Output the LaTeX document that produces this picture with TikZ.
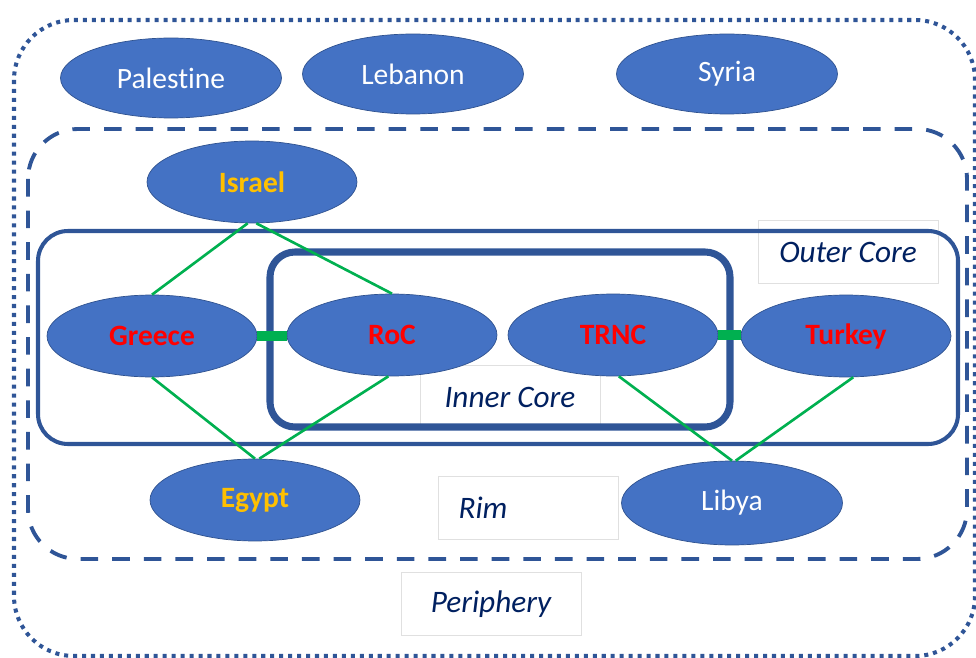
\documentclass[tikz,border=0pt]{standalone}
\usepackage{fontspec}
\setmainfont{Carlito}[Ligatures={NoCommon,NoRare}]
\usetikzlibrary{shapes.geometric}
\definecolor{nodeblue}{HTML}{4472C4}
\definecolor{edgeblue}{HTML}{2F528F}
\definecolor{frameblue}{HTML}{2F5597}
\definecolor{labelnavy}{HTML}{002060}
\definecolor{linkgreen}{HTML}{00B050}
\definecolor{keyred}{HTML}{FF0000}
\definecolor{keygold}{HTML}{FFC000}
\begin{document}
\begin{tikzpicture}
[
 x=0.02cm, y=-0.02cm,
 inner sep=0mm,
 COUNTRY/.style={ellipse, draw=edgeblue, fill=nodeblue, thin, minimum width=4.2cm, minimum height=1.64cm, text=white, font=\fontsize{16.8}{20}\selectfont},
 WIDE/.style={COUNTRY, minimum width=4.42cm, minimum height=1.6cm},
 LABELBOX/.style={rectangle, draw=black!12, fill=white, very thin, minimum width=3.6cm, minimum height=1.26cm, text=labelnavy, font=\fontsize{17.8}{20}\selectfont\itshape},
 LINK/.style={draw=linkgreen, line width=1.5pt},
 BAR/.style={draw=linkgreen, line width=5.5pt},
 ]
%
\useasboundingbox (0,0) rectangle (976,658);
%
% frames
\draw [frameblue, line width=2.3pt, dash pattern=on 2.3pt off 2.8pt, rounded corners=1.2cm]
      (14,20) rectangle (975,656);
\draw [frameblue, line width=2.2pt, dash pattern=on 10pt off 8pt, rounded corners=1cm]
      (28,129) rectangle (967,559);
%
\node [LABELBOX]  (OuterLab)  at (848,252)  {Outer Core};
\node [LABELBOX]  (InnerLab)  at (510,397)  {Inner Core};
\node [LABELBOX]  (RimLab)    at (528,508)  {\hspace*{-1.8cm}Rim};
\node [LABELBOX]  (PeriLab)   at (491,604)  {Periphery};
%
\draw [frameblue, line width=2.3pt, rounded corners=0.6cm]  (38,231) rectangle (958,444);
\draw [frameblue, line width=4pt, rounded corners=0.5cm]    (270,252) rectangle (730,427);
%
\node [WIDE]     (Palestine)  at (171,78)   {Palestine};
\node [WIDE]     (Lebanon)    at (413,74)   {Lebanon};
\node [WIDE]     (Syria)      at (727,74)   {Syria};
%
\node [COUNTRY]  (Israel)     at (252,182)  {\textcolor{keygold}{\bfseries Israel}};
\node [COUNTRY]  (Greece)     at (152,336)  {\textcolor{keyred}{\bfseries Greece}};
\node [COUNTRY]  (RoC)        at (392,335)  {\textcolor{keyred}{\bfseries RoC}};
\node [COUNTRY]  (TRNC)       at (613,335)  {\textcolor{keyred}{\bfseries TRNC}};
\node [COUNTRY]  (Turkey)     at (846,336)  {\textcolor{keyred}{\bfseries Turkey}};
\node [COUNTRY]  (Egypt)      at (255,500)  {\textcolor{keygold}{\bfseries Egypt}};
\node [WIDE, minimum height=1.68cm]  (Libya)  at (732,503)  {Libya};
%
\draw [LINK]  (Israel.-96)  -- (Greece.north) ;
\draw [LINK]  (Israel.-84)  -- (RoC.north) ;
\draw [LINK]  (Greece.south) -- (Egypt.north) ;
\draw [LINK]  (RoC.-95)      -- (Egypt.84) ;
\draw [LINK]  (TRNC.-82)     -- (Libya.north) ;
\draw [LINK]  (Turkey.-80)   -- (Libya.85) ;
%
\draw [BAR]   (Greece.east)  -- (Greece.east -| RoC.west) ;
\draw [BAR]   (TRNC.east)    -- (TRNC.east -| Turkey.west) ;
%
\end{tikzpicture}
\end{document}
